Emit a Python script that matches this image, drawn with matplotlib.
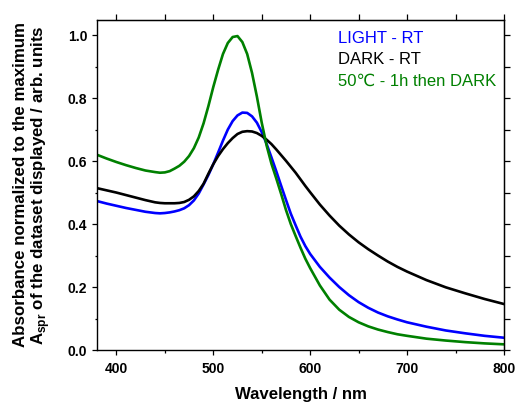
import numpy as np
import matplotlib
matplotlib.use("Agg")
from matplotlib import pyplot as plt

plt.rcParams["font.family"] = ["Liberation Sans", "DejaVu Sans"]

# Wavelength grid (nm)
WAVELENGTHS: list[int] = [
    380, 390, 400, 410, 420, 430, 440, 445, 450, 455, 460, 465, 470, 475, 480,
    485, 490, 495, 500, 505, 510, 515, 520, 525, 530, 535, 540, 545, 550, 555,
    560, 565, 570, 575, 580, 585, 590, 595, 600, 610, 620, 630, 640, 650, 660,
    670, 680, 690, 700, 720, 740, 760, 780, 800,
]

# Normalised absorbance for each sample
LIGHT_RT: list[float] = [
    0.473, 0.465, 0.458, 0.451, 0.445, 0.439, 0.435, 0.434, 0.435, 0.437, 0.440,
    0.444, 0.450, 0.460, 0.475, 0.497, 0.526, 0.556, 0.590, 0.627, 0.665, 0.700,
    0.727, 0.745, 0.754, 0.753, 0.742, 0.722, 0.692, 0.655, 0.612, 0.568, 0.522,
    0.477, 0.433, 0.396, 0.360, 0.330, 0.305, 0.264, 0.230, 0.200, 0.174, 0.152,
    0.134, 0.119, 0.107, 0.097, 0.088, 0.074, 0.062, 0.053, 0.045, 0.039,
]
DARK_RT: list[float] = [
    0.514, 0.507, 0.500, 0.492, 0.484, 0.476, 0.469, 0.467, 0.466, 0.466, 0.466,
    0.467, 0.470, 0.477, 0.488, 0.505, 0.528, 0.560, 0.590, 0.616, 0.638, 0.657,
    0.673, 0.686, 0.693, 0.695, 0.694, 0.689, 0.680, 0.668, 0.654, 0.637, 0.619,
    0.601, 0.582, 0.563, 0.542, 0.521, 0.501, 0.462, 0.427, 0.395, 0.367, 0.342,
    0.320, 0.300, 0.281, 0.264, 0.249, 0.222, 0.199, 0.180, 0.162, 0.146,
]
HEAT_THEN_DARK: list[float] = [
    0.620, 0.608, 0.597, 0.587, 0.578, 0.570, 0.565, 0.563, 0.564, 0.568, 0.576,
    0.585, 0.598, 0.616, 0.641, 0.675, 0.720, 0.775, 0.835, 0.890, 0.940, 0.975,
    0.994, 0.997, 0.978, 0.940, 0.880, 0.805, 0.722, 0.650, 0.592, 0.545, 0.496,
    0.445, 0.400, 0.362, 0.325, 0.290, 0.260, 0.205, 0.160, 0.128, 0.105, 0.088,
    0.075, 0.065, 0.057, 0.050, 0.045, 0.036, 0.030, 0.025, 0.021, 0.018,
]

SERIES: list[tuple[str, list[float], str]] = [
    ("LIGHT - RT", LIGHT_RT, "#0000ff"),
    ("DARK - RT", DARK_RT, "#000000"),
    ("50\u2103 - 1h then DARK", HEAT_THEN_DARK, "#008000"),
]


def main() -> None:
    fig = plt.figure(figsize=(5.17, 4.05), dpi=100)
    ax = fig.add_axes([0.1876, 0.1358, 0.7872, 0.8148])

    handles = []
    for name, values, color in SERIES:
        (line,) = ax.plot(WAVELENGTHS, values, color=color, linewidth=1.9, label=name)
        handles.append(line)

    ax.set_xlim(380, 800)
    ax.set_ylim(0, 1.048)
    ax.set_xticks(np.arange(400, 801, 100))
    ax.set_xticks(np.arange(450, 801, 100), minor=True)
    ax.set_yticks(np.arange(0, 1.01, 0.2))
    ax.set_yticks(np.arange(0.1, 1.01, 0.2), minor=True)
    ax.set_yticklabels([f"{v:.1f}" for v in np.arange(0, 1.01, 0.2)])

    for label in ax.get_xticklabels() + ax.get_yticklabels():
        label.set_fontweight("bold")
        label.set_fontsize(10)

    ax.tick_params(which="major", direction="out", length=3.6, width=0.9)
    ax.tick_params(which="minor", direction="out", length=1.8, width=0.9)
    ax.tick_params(axis="x", pad=5)

    # NOTE: top and right axes carry ticks of equal length, no labels
    top = ax.secondary_xaxis("top")
    top.set_xticks(np.arange(400, 801, 50))
    top.set_xticklabels([])
    top.tick_params(direction="out", length=4.5, width=0.9)
    right = ax.secondary_yaxis("right")
    right.set_yticks(np.arange(0, 1.01, 0.1))
    right.set_yticklabels([])
    right.tick_params(direction="out", length=4.5, width=0.9)

    for spine in ax.spines.values():
        spine.set_linewidth(1.0)

    ax.set_xlabel("Wavelength / nm", fontsize=12.1, fontweight="bold", labelpad=8)
    ax.set_ylabel(
        "Absorbance normalized to the maximum\n"
        r"A$_{\mathregular{spr}}$ of the dataset displayed / arb. units",
        fontsize=12.2,
        fontweight="bold",
        labelpad=11,
        linespacing=1.1,
    )

    leg = ax.legend(
        handles=handles,
        loc="upper left",
        bbox_to_anchor=(0.592, 0.967),
        frameon=False,
        handlelength=0,
        handletextpad=0,
        borderpad=0,
        borderaxespad=0,
        labelspacing=0.38,
        fontsize=12,
        labelcolor="linecolor",
    )
    for h in leg.legend_handles:
        h.set_visible(False)

    fig.savefig("out.png", dpi=100)
    plt.close(fig)


if __name__ == "__main__":
    main()
